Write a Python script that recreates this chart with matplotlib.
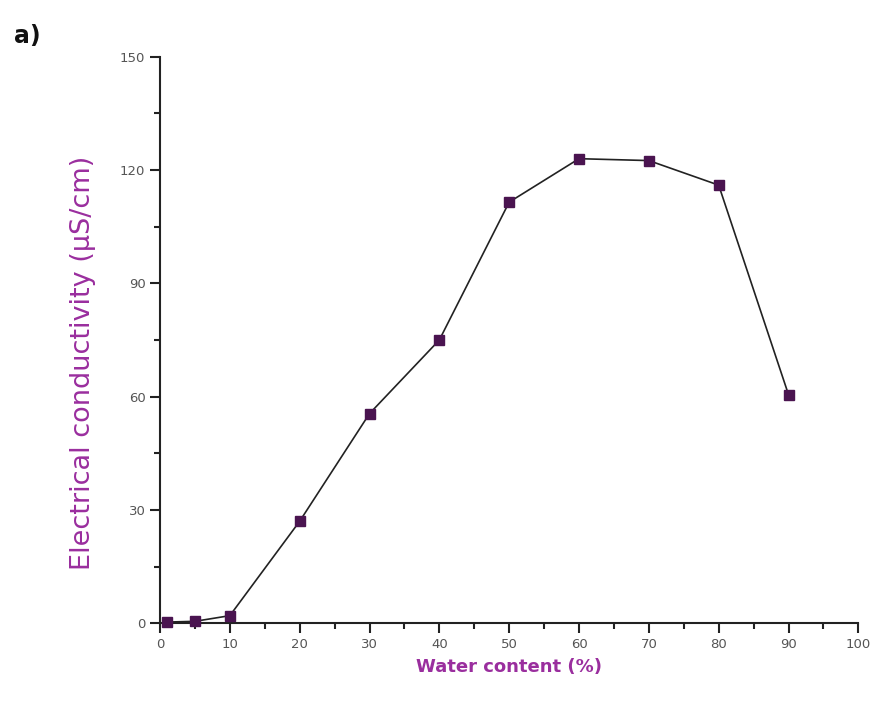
import matplotlib.pyplot as plt
from matplotlib.ticker import MultipleLocator

# water content (%) vs electrical conductivity (uS/cm)
water = [1, 5, 10, 20, 30, 40, 50, 60, 70, 80, 90]
conductivity = [0.3, 0.5, 2.0, 27.0, 55.5, 75.0, 111.5, 123.0, 122.5, 116.0, 60.5]

purple = '#9a2e9e'

fig = plt.figure(figsize=(8.84, 7.09), dpi=100)
ax = fig.add_axes([0.181, 0.121, 0.79, 0.799])

ax.plot(water, conductivity, color='#222222', lw=1.2, marker='s', ms=7.5,
        mfc='#4a1450', mec='#4a1450', zorder=3, clip_on=False)

ax.set_xlim(0, 100)
ax.set_ylim(0, 150)
ax.xaxis.set_major_locator(MultipleLocator(10))
ax.xaxis.set_minor_locator(MultipleLocator(5))
ax.yaxis.set_major_locator(MultipleLocator(30))
ax.yaxis.set_minor_locator(MultipleLocator(15))

for s in ['top', 'right']:
    ax.spines[s].set_visible(False)
for s in ['left', 'bottom']:
    ax.spines[s].set_linewidth(1.5)
    ax.spines[s].set_color('#222222')

ax.tick_params(which='major', direction='out', length=7, width=1.5,
               labelsize=9.5, labelcolor='#555555', color='#222222')
ax.tick_params(which='minor', direction='out', length=4, width=1.5,
               color='#222222')

ax.set_xlabel('Water content (%)', color=purple, fontsize=13,
              fontweight='bold', labelpad=5)
ax.set_ylabel('Electrical conductivity (\u00b5S/cm)', color=purple,
              fontsize=19.5)
ax.yaxis.set_label_coords(-0.092, 0.46)

fig.text(0.016, 0.94, 'a)', fontsize=17, fontweight='bold', color='#111111')

fig.savefig('out.png', dpi=100)
